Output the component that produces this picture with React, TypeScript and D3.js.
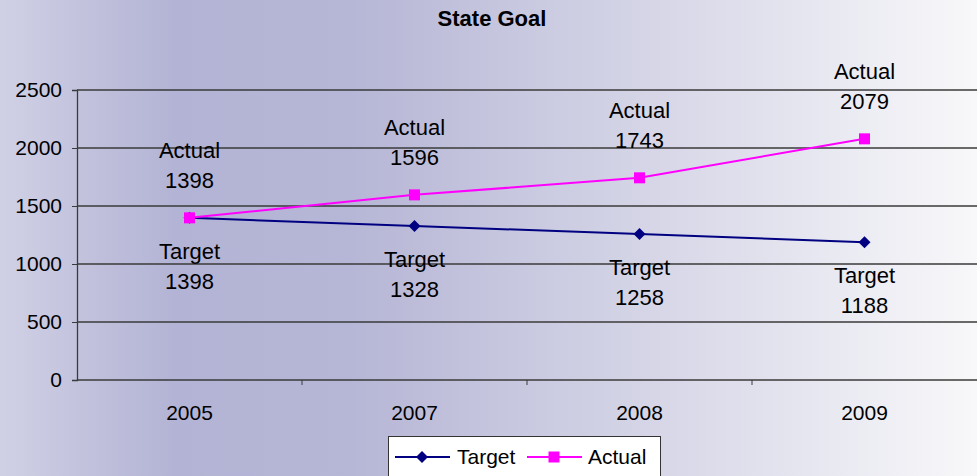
import React, { useRef, useEffect } from 'react';
import * as d3 from 'd3';

const years = ['2005', '2007', '2008', '2009'];
const targetValues = [1398, 1328, 1258, 1188];
const actualValues = [1398, 1596, 1743, 2079];
const yTicks = [0, 500, 1000, 1500, 2000, 2500];

const W = 977;
const H = 476;
const FONT = 'Arial, "Liberation Sans", sans-serif';

const App: React.FC = () => {
  const svgRef = useRef<SVGSVGElement>(null);

  useEffect(() => {
    document.body.style.margin = '0';
    if (!svgRef.current) return;
    const svg = d3.select(svgRef.current);
    svg.selectAll('*').remove();

    const margin = { top: 90, right: 0, bottom: 96, left: 77 };
    const innerW = W - margin.left - margin.right;
    const innerH = H - margin.top - margin.bottom;

    // background gradient
    const defs = svg.append('defs');
    const grad = defs.append('linearGradient').attr('id', 'bg').attr('x1', 0).attr('x2', 1).attr('y1', 0).attr('y2', 0);
    grad.append('stop').attr('offset', 0).attr('stop-color', '#d0d0e5');
    grad.append('stop').attr('offset', 0.18).attr('stop-color', '#b3b3d5');
    grad.append('stop').attr('offset', 0.36).attr('stop-color', '#b6b6d6');
    grad.append('stop').attr('offset', 1).attr('stop-color', '#f8f8fa');
    svg.append('rect').attr('width', W).attr('height', H).attr('fill', 'url(#bg)');

    svg.append('text')
      .attr('x', 492).attr('y', 26)
      .attr('text-anchor', 'middle')
      .style('font-family', FONT).style('font-size', '22px').style('font-weight', 'bold')
      .text('State Goal');

    const g = svg.append('g').attr('transform', `translate(${margin.left},${margin.top})`);

    const x = d3.scaleBand().domain(years).range([0, innerW]);
    const y = d3.scaleLinear().domain([0, 2500]).range([innerH, 0]);
    const cx = (d: string) => (x(d) || 0) + x.bandwidth() / 2;

    // gridlines
    g.selectAll('.grid').data(yTicks).enter().append('line')
      .attr('x1', 0).attr('x2', innerW)
      .attr('y1', d => y(d)).attr('y2', d => y(d))
      .attr('stroke', '#3a3a3a').attr('stroke-width', 1.3);

    // y axis
    const yAxis = g.append('g').call(d3.axisLeft(y).tickValues(yTicks).tickSize(5).tickPadding(10).tickFormat(d3.format('d')));
    yAxis.select('.domain').attr('stroke', '#3a3a3a').attr('stroke-width', 1.3);
    yAxis.selectAll('.tick line').attr('stroke', '#3a3a3a');
    yAxis.selectAll('.tick text').style('font-family', FONT).style('font-size', '21px').attr('fill', '#000');

    // x axis ticks at category boundaries
    g.selectAll('.xtick').data(years.slice(1)).enter().append('line')
      .attr('x1', d => x(d) || 0).attr('x2', d => x(d) || 0)
      .attr('y1', innerH).attr('y2', innerH + 5)
      .attr('stroke', '#3a3a3a');
    g.selectAll('.xlabel').data(years).enter().append('text')
      .attr('x', d => cx(d)).attr('y', innerH + 40)
      .attr('text-anchor', 'middle')
      .style('font-family', FONT).style('font-size', '21px')
      .text(d => d);

    const line = d3.line<number>().x((_, i) => cx(years[i])).y(d => y(d));

    g.append('path').datum(targetValues).attr('d', line)
      .attr('fill', 'none').attr('stroke', '#000080').attr('stroke-width', 2);
    g.append('path').datum(actualValues).attr('d', line)
      .attr('fill', 'none').attr('stroke', '#ff00ff').attr('stroke-width', 2);

    g.selectAll('.diamond').data(targetValues).enter().append('path')
      .attr('d', 'M0,-6L6,0L0,6L-6,0Z')
      .attr('transform', (d, i) => `translate(${cx(years[i])},${y(d)})`)
      .attr('fill', '#000080');
    g.selectAll('.square').data(actualValues).enter().append('rect')
      .attr('x', (_, i) => cx(years[i]) - 5.5).attr('y', d => y(d) - 5.5)
      .attr('width', 11).attr('height', 11)
      .attr('fill', '#ff00ff');

    // data labels
    const labelStyle = (sel: any) => sel.style('font-family', FONT).style('font-size', '22px').attr('text-anchor', 'middle');
    actualValues.forEach((v, i) => {
      g.append('text').attr('x', cx(years[i])).attr('y', y(v) - 60).call(labelStyle).text('Actual');
      g.append('text').attr('x', cx(years[i])).attr('y', y(v) - 30).call(labelStyle).text(v);
    });
    targetValues.forEach((v, i) => {
      g.append('text').attr('x', cx(years[i])).attr('y', y(v) + 41).call(labelStyle).text('Target');
      g.append('text').attr('x', cx(years[i])).attr('y', y(v) + 71).call(labelStyle).text(v);
    });

    // legend
    const lg = svg.append('g').attr('transform', 'translate(388,436)');
    lg.append('rect').attr('x', 0.5).attr('y', 0.5).attr('width', 272).attr('height', 50)
      .attr('fill', '#fff').attr('stroke', '#333');
    lg.append('line').attr('x1', 7).attr('x2', 62).attr('y1', 21).attr('y2', 21).attr('stroke', '#000080').attr('stroke-width', 2);
    lg.append('path').attr('d', 'M0,-6L6,0L0,6L-6,0Z').attr('transform', 'translate(34,21)').attr('fill', '#000080');
    lg.append('text').attr('x', 69).attr('y', 28).style('font-family', FONT).style('font-size', '21px').text('Target');
    lg.append('line').attr('x1', 139).attr('x2', 194).attr('y1', 21).attr('y2', 21).attr('stroke', '#ff00ff').attr('stroke-width', 2);
    lg.append('rect').attr('x', 160.5).attr('y', 15.5).attr('width', 11).attr('height', 11).attr('fill', '#ff00ff');
    lg.append('text').attr('x', 200).attr('y', 28).style('font-family', FONT).style('font-size', '21px').text('Actual');
  }, []);

  return <svg ref={svgRef} width={W} height={H} style={{ display: 'block' }} />;
};

export default App;
